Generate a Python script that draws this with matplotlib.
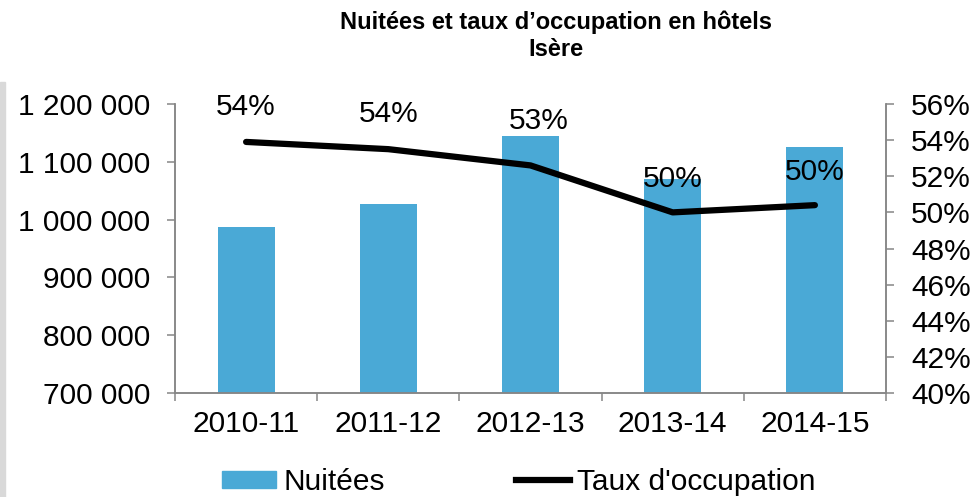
import matplotlib.pyplot as plt
from matplotlib.patches import Patch, Rectangle
from matplotlib.lines import Line2D
from matplotlib.ticker import FuncFormatter, MultipleLocator

plt.rcParams['font.family'] = ['Liberation Sans', 'DejaVu Sans']

saisons = ['2010-11', '2011-12', '2012-13', '2013-14', '2014-15']
nuitees = [988000, 1026500, 1144000, 1070000, 1125500]
taux = [53.9, 53.5, 52.6, 50.0, 50.4]
taux_labels = ['54%', '54%', '53%', '50%', '50%']

bleu = '#4aa9d6'
gris = '#868686'
fs = 21.5

fig = plt.figure(figsize=(9.72, 4.97), dpi=100)
ax = fig.add_axes([175/972, 1 - 393/497, (886-175)/972, (393-104)/497])
ax2 = ax.twinx()

x = list(range(len(saisons)))
ax.bar(x, nuitees, width=0.4, color=bleu, zorder=2)
ax2.plot(x, taux, color='black', lw=4.5, solid_capstyle='round', solid_joinstyle='round', zorder=3)

# data labels above the line points (offsets in points)
lab_dx = [0, 0, 6, 0, 0]
lab_dy = [25, 25, 32, 24, 24]
for i in x:
    ax2.annotate(taux_labels[i], (i, taux[i]), xytext=(lab_dx[i], lab_dy[i]),
                 textcoords='offset points', ha='center', va='center', fontsize=fs)

ax.set_xlim(-0.5, 4.5)
ax.set_ylim(700000, 1200000)
ax.yaxis.set_major_locator(MultipleLocator(100000))
ax.yaxis.set_major_formatter(FuncFormatter(lambda v, p: f'{int(v):,}'.replace(',', ' ')))
ax2.set_ylim(40, 56)
ax2.yaxis.set_major_locator(MultipleLocator(2))
ax2.yaxis.set_major_formatter(FuncFormatter(lambda v, p: f'{int(round(v))}%'))

ax.set_xticks(x)
ax.set_xticklabels(saisons)
ax.set_xticks([i - 0.5 for i in range(len(saisons) + 1)], minor=True)
ax.tick_params(axis='x', which='major', length=0, pad=12, labelsize=fs)
ax.tick_params(axis='x', which='minor', length=6, width=1.1, color=gris)
ax.tick_params(axis='y', length=6, width=1.1, color=gris, pad=12, labelsize=fs)
ax2.tick_params(axis='y', length=6, width=1.1, color=gris, pad=12, labelsize=fs)

for a in (ax, ax2):
    a.spines['top'].set_visible(False)
    for s in ('left', 'right', 'bottom'):
        a.spines[s].set_color(gris)
        a.spines[s].set_linewidth(1.1)

fig.text(556/972, 1 - 36/497, 'Nuitées et taux d’occupation en hôtels\nIsère',
         ha='center', va='center', fontsize=17, fontweight='bold', linespacing=1.2)

# grey strip on the left edge
fig.patches.append(Rectangle((0, 0), 5/972, 1 - 82/497, transform=fig.transFigure,
                             color='#d9d9d9', zorder=0))

handles = [Patch(color=bleu), Line2D([], [], color='black', lw=4.5)]
fig.legend(handles, ['Nuitées', "Taux d'occupation"], loc='center',
           bbox_to_anchor=(519/972, 1 - 482/497), ncol=2, frameon=False,
           fontsize=fs, handlelength=1.8, handleheight=0.5, handletextpad=0.25,
           columnspacing=4.4, borderpad=0)

fig.savefig('out.png', dpi=100)
